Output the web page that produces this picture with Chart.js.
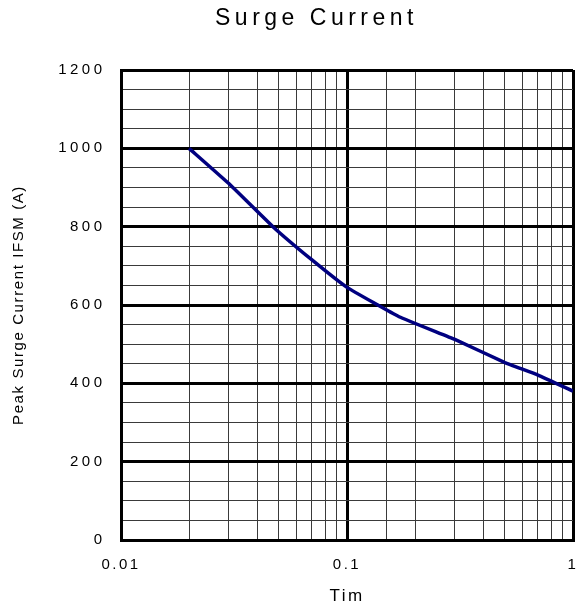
<!DOCTYPE html>
<html><head><meta charset="utf-8">
<script src="https://cdn.jsdelivr.net/npm/chart.js@4.4.1/dist/chart.umd.min.js"></script>
<style>html,body{margin:0;padding:0;background:#fff;}canvas{display:block;}</style>
</head><body>
<canvas id="c" width="584" height="609"></canvas>
<script>
const chartTitle = 'Surge Current';
const xAxisTitle = 'Tim';
const yAxisTitle = 'Peak Surge Current IFSM (A)';
const timeValues = [0.02, 0.03, 0.047, 0.07, 0.1, 0.17, 0.3, 0.5, 0.7, 1];
const currentValues = [1000, 910, 800, 715, 645, 570, 512, 453, 421, 380];
const xTickLabels = [0.01, 0.1, 1];
const yTickLabels = [0, 200, 400, 600, 800, 1000, 1200];

const FONT = '"Liberation Sans", Arial, Helvetica, sans-serif';

const isDecade = v => { const l = Math.log10(v); return Math.abs(l - Math.round(l)) < 1e-6; };

const spacingPlugin = {
  id: 'spacing',
  beforeDraw(chart) {
    const ctx = chart.ctx;
    const wrap = (obj, name, sp, dx) => {
      if (!obj || obj['__w_' + name]) return;
      const orig = obj[name];
      obj[name] = function (...args) {
        ctx.save();
        ctx.letterSpacing = sp;
        if (dx) ctx.translate(dx, 0);
        try { return orig.apply(this, args); } finally { ctx.restore(); }
      };
      obj['__w_' + name] = true;
    };
    wrap(chart.titleBlock, 'draw', '4.5px', 30);
    wrap(chart.scales.x, 'drawLabels', '2.5px');
    wrap(chart.scales.y, 'drawLabels', '3.5px');
    wrap(chart.scales.x, 'drawTitle', '2.5px');
    wrap(chart.scales.y, 'drawTitle', '1.6px');
  }
};

const points = timeValues.map((t, i) => ({ x: t, y: currentValues[i] }));

new Chart(document.getElementById('c'), {
  type: 'scatter',
  data: {
    datasets: [{
      data: points,
      showLine: true,
      borderColor: '#000080',
      backgroundColor: '#000080',
      borderWidth: 3.5,
      pointRadius: 0,
      tension: 0.1
    }]
  },
  options: {
    responsive: false,
    animation: false,
    devicePixelRatio: 1,
    layout: { padding: { left: 0, right: 11, top: 0, bottom: 0 } },
    plugins: {
      legend: { display: false },
      tooltip: { enabled: false },
      title: {
        display: true,
        text: chartTitle,
        color: '#000',
        font: { family: FONT, size: 23, weight: 'normal' },
        padding: { top: 5, bottom: 37.4 }
      }
    },
    scales: {
      x: {
        type: 'logarithmic',
        min: 0.01,
        max: 1,
        afterFit: s => { s.height = 69; s.paddingRight = 0; s.paddingLeft = 0; },
        border: { display: true, color: '#000', width: 3 },
        grid: {
          drawTicks: false,
          color: ctx => isDecade(ctx.tick.value) ? '#000' : '#3a3a3a',
          lineWidth: ctx => isDecade(ctx.tick.value) ? 3 : 1
        },
        ticks: {
          autoSkip: false,
          maxRotation: 0,
          padding: 16,
          color: '#000',
          font: { family: FONT, size: 15 },
          callback: v => xTickLabels.some(t => Math.abs(t - v) < 1e-9) ? String(Number(v.toPrecision(3))) : ''
        },
        title: {
          display: true,
          text: xAxisTitle,
          color: '#000',
          font: { family: FONT, size: 17 },
          padding: { top: 0, bottom: 2 }
        }
      },
      y: {
        min: 0,
        max: 1200,
        afterFit: s => { s.width = 121; },
        border: { display: true, color: '#000', width: 3 },
        grid: {
          drawTicks: false,
          color: ctx => ctx.tick.value % 200 === 0 ? '#000' : '#3a3a3a',
          lineWidth: ctx => ctx.tick.value % 200 === 0 ? 3 : 1
        },
        ticks: {
          stepSize: 50,
          autoSkip: false,
          padding: 15.5,
          color: '#000',
          font: { family: FONT, size: 15 },
          callback: v => yTickLabels.includes(v) ? String(v) : ''
        },
        title: {
          display: true,
          text: yAxisTitle,
          color: '#000',
          font: { family: FONT, size: 15 },
          padding: { top: 10, bottom: 0 }
        }
      }
    }
  },
  plugins: [spacingPlugin]
});
</script>
</body></html>
